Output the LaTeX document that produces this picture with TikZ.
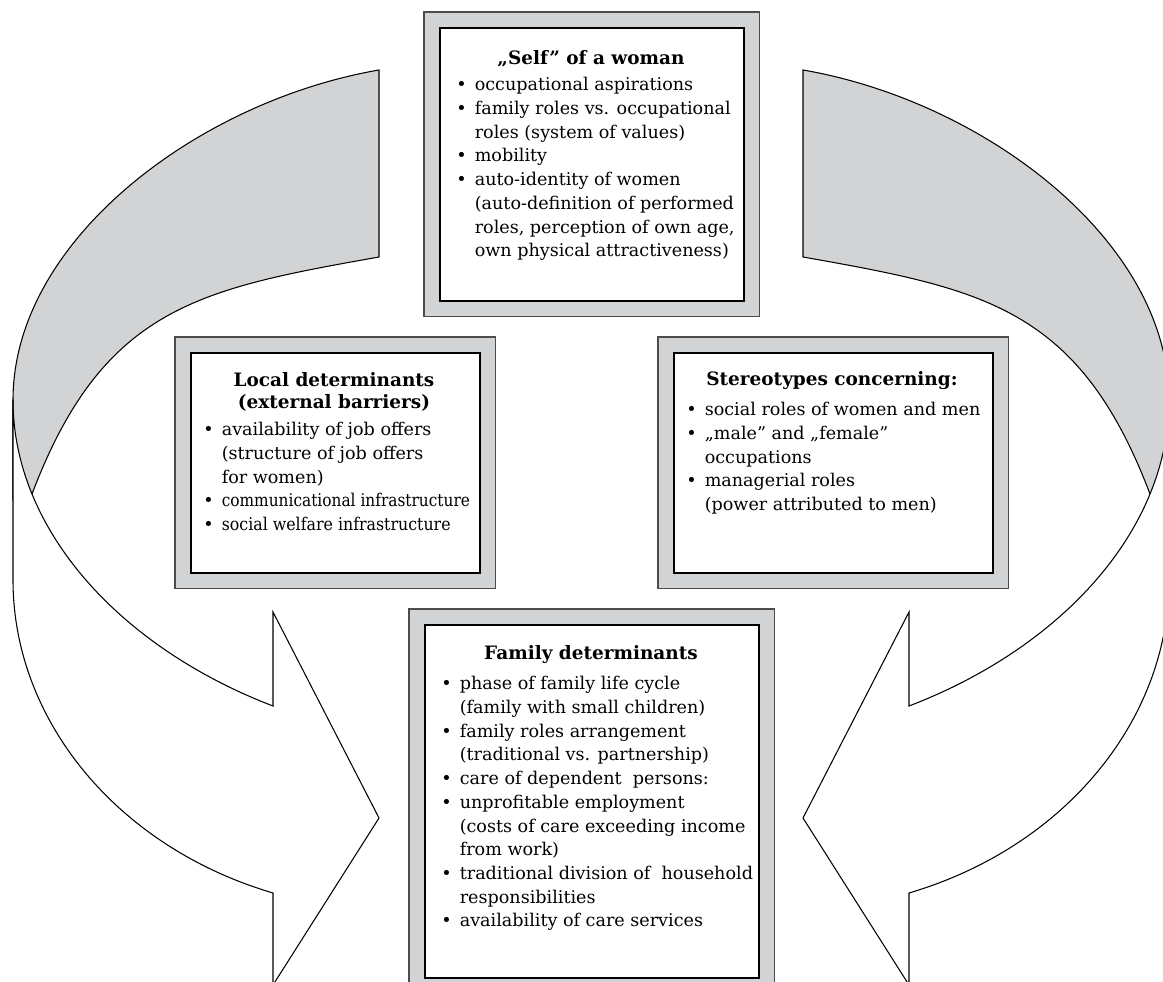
\documentclass[tikz,border=0pt]{standalone}
\usepackage{fontspec}
\setmainfont{DejaVu Serif}
\usepackage{graphicx}
\usepackage{tikz}
\usetikzlibrary{positioning, fit, backgrounds}
\definecolor{ribbon}{RGB}{209,211,212}
\newcommand{\itm}{\makebox[1.05em][l]{\textbullet}}
\newcommand{\nxt}{\hspace*{1.05em}}

\begin{document}
\begin{tikzpicture}[
    x=0.02cm, y=-0.02cm,
    band/.style={draw=black, line width=0.6pt, fill=ribbon},
    arrowface/.style={draw=black, line width=0.6pt, fill=white},
    panel/.style={draw=black, line width=0.9pt, fill=white, inner sep=0pt, anchor=north west},
    frame/.style={draw=black!70, line width=0.8pt, fill=ribbon, inner sep=0.3cm},
    boxtitle/.style={font=\fontsize{10.5}{13}\selectfont\bfseries, align=center, inner sep=0pt},
    bullets/.style={font=\fontsize{10}{13.5}\selectfont, align=left, inner sep=0pt, anchor=north west}
]
    \useasboundingbox (0,0) rectangle (1163,982);

    % --- Ribbons ---
    % left one drawn, right one mirrored
    \foreach \sx/\dx in {1/0, -1/1182} {
    \begin{scope}[shift={(\dx,0)}, xscale=\sx]
        \filldraw[band] (379,70) .. controls (199,101) and (13,240) .. (13,400)
            -- (13,500) -- (32,494) .. controls (103,307) and (199,289) .. (379,257) -- cycle;
        \filldraw[arrowface] (13,400) -- (13,580) .. controls (13,720) and (117,847) .. (273,893)
            -- (273,985) -- (379,818) -- (273,612) -- (273,706)
            .. controls (119,647) and (13,529) .. (13,400) -- cycle;
    \end{scope}
    }

    % --- Nodes ---
    % Panels
    \node[panel, minimum width=6.08cm, minimum height=5.46cm] (selfpanel) at (439,27) {};
    \node[panel, minimum width=5.78cm, minimum height=4.4cm] (localpanel) at (190,352) {};
    \node[panel, minimum width=6.38cm, minimum height=4.4cm] (stereopanel) at (673,352) {};
    \node[panel, minimum width=6.68cm, minimum height=7.06cm] (familypanel) at (424,624) {};

    % Self
    \node[boxtitle] (selftitle) at (591,59) {„Self” of a woman};
    \node[bullets] (selflist) at (456,77) {
        \itm occupational aspirations\\
        \itm family roles vs. occupational\\
        \nxt roles (system of values)\\
        \itm mobility\\
        \itm auto-identity of women\\
        \nxt (auto-definition of performed\\
        \nxt roles, perception of own age,\\
        \nxt own physical attractiveness)};

    % Local determinants
    \node[boxtitle] (localtitle) at (334,392) {Local determinants\\(external barriers)};
    \node[bullets] (locallist) at (203,422) {
        \itm availability of job offers\\
        \nxt (structure of job offers\\
        \nxt for women)\\
        \itm \scalebox{0.875}[1]{communicational infrastructure}\\
        \itm \scalebox{0.9}[1]{social welfare infrastructure}};

    % Stereotypes
    \node[boxtitle] (stereotitle) at (832,381) {Stereotypes concerning:};
    \node[bullets] (stereolist) at (686,402) {
        \itm social roles of women and men\\
        \itm „male” and „female”\\
        \nxt occupations\\
        \itm managerial roles\\
        \nxt (power attributed to men)};

    % Family determinants
    \node[boxtitle] (familytitle) at (591,655) {Family determinants};
    \node[bullets] (familylist) at (441,676) {
        \itm phase of family life cycle\\
        \nxt (family with small children)\\
        \itm family roles arrangement\\
        \nxt (traditional vs. partnership)\\
        \itm care of dependent\ \ persons:\\
        \itm unprofitable employment\\
        \nxt (costs of care exceeding income\\
        \nxt from work)\\
        \itm traditional division of\ \ household\\
        \nxt responsibilities\\
        \itm availability of care services};

    % Gray frames behind the panels
    \begin{scope}[on background layer]
        \node[frame, fit=(selfpanel)] (selfframe) {};
        \node[frame, fit=(localpanel)] (localframe) {};
        \node[frame, fit=(stereopanel)] (stereoframe) {};
        \node[frame, fit=(familypanel)] (familyframe) {};
    \end{scope}

\end{tikzpicture}
\end{document}
